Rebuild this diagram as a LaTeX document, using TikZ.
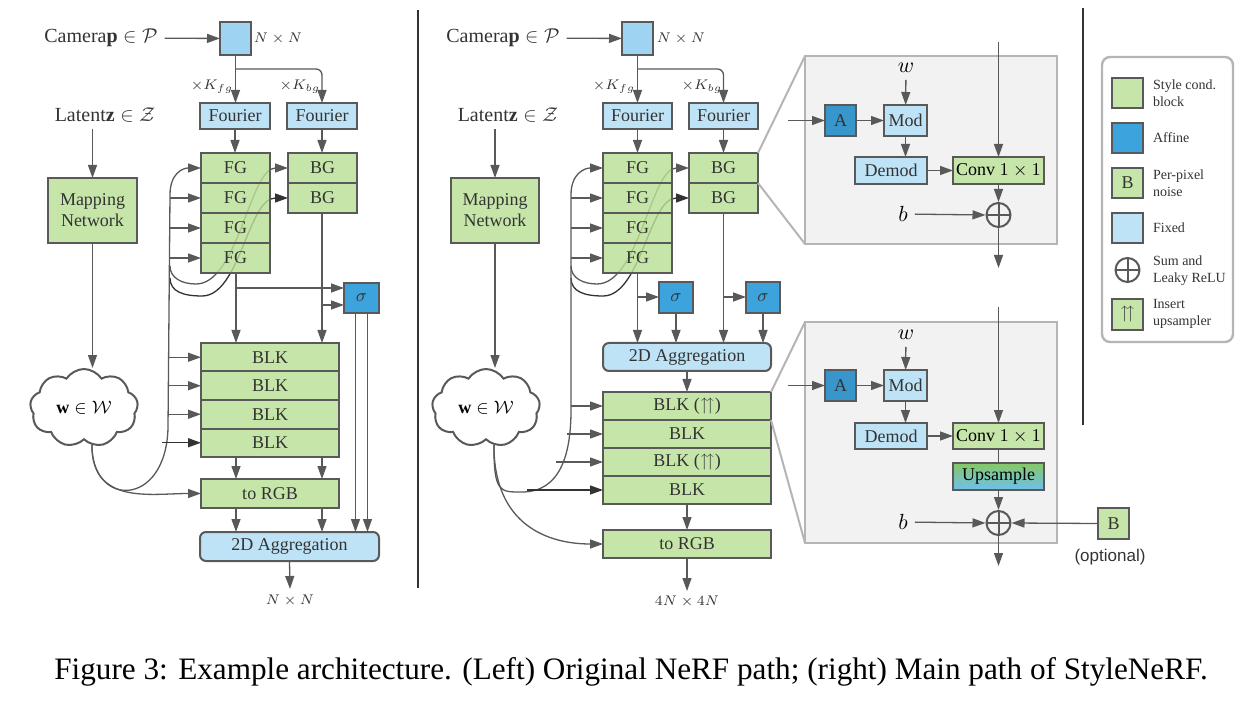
\documentclass[tikz,border=0pt]{standalone}
\usepackage{amsmath}
\usepackage{amssymb}
\usepackage{fontspec}
\setmainfont{Liberation Serif}
\newfontfamily\optfont{Liberation Sans}
\usetikzlibrary{shapes,arrows.meta,calc,fit,positioning}

\definecolor{styleGreen}{HTML}{C6E6A9}
\definecolor{fgGreen}{HTML}{BAE196}
\definecolor{fixedBlue}{HTML}{BFE3F6}
\definecolor{camBlue}{HTML}{9ED3F1}
\definecolor{affineBlue}{HTML}{3DA3DC}
\definecolor{edgeGray}{HTML}{595959}
\definecolor{txtGray}{HTML}{333333}
\definecolor{zoomGray}{HTML}{B5B5B5}
\definecolor{panelGray}{HTML}{F2F2F2}
\definecolor{upGreen}{HTML}{86C866}
\definecolor{upBlue}{HTML}{6EC0EE}

\begin{document}
\begin{tikzpicture}[x=0.5pt,y=-0.5pt,>={Triangle[length=6.5pt,width=4.5pt]},
		font=\fontsize{9}{10.5}\selectfont, text=txtGray,
		every fit/.style={inner sep=0pt, outer sep=0pt},
		blockbox/.style={draw=edgeGray, line width=1pt},
		stylebox/.style={blockbox, fill=styleGreen},
		fgbox/.style={blockbox, fill=fgGreen, fill opacity=0.82, text opacity=1},
		fixedbox/.style={blockbox, fill=fixedBlue},
		affinebox/.style={blockbox, fill=affineBlue},
		wire/.style={draw=edgeGray, line width=0.65pt},
		zoomline/.style={draw=zoomGray, line width=1pt},
		panel/.style={draw=zoomGray, line width=1.2pt, fill=panelGray},
		wcloud/.style={cloud, cloud puffs=9, cloud puff arc=115, aspect=1.5, draw=edgeGray, line width=1pt, fill=white,
			minimum width=54pt, minimum height=39pt, inner sep=0pt, text=black},
		sumnode/.style={circle, draw=edgeGray, line width=1pt, minimum size=12pt, inner sep=0pt,
			path picture={\draw[edgeGray, line width=1pt] (path picture bounding box.north) -- (path picture bounding box.south) (path picture bounding box.west) -- (path picture bounding box.east);}},
		smalltxt/.style={font=\fontsize{7}{8}\selectfont},
		bigtxt/.style={font=\fontsize{10}{11}\selectfont},
		legtext/.style={font=\fontsize{7}{8.5}\selectfont, align=left, anchor=west}]
	\useasboundingbox (0,0) rectangle (1252,705);

	% ---------------- left: original NeRF path
	\node (camL) [bigtxt] at (101,38) {Camera$\mathbf{p}\in\mathcal{P}$};
	\node (sqL) [blockbox, fill=camBlue, fit={(220,22) (251,55)}] {};
	\node (nnL) [smalltxt] at (278,39) {$N\times N$};
	\node (kfgL) [smalltxt] at (212,87) {$\times K_{fg}$};
	\node (kbgL) [smalltxt] at (300,87) {$\times K_{bg}$};
	\node (fouL1) [fixedbox, fit={(200,103) (270,129)}, label=center:{Fourier}] {};
	\node (fouL2) [fixedbox, fit={(287,103) (357,129)}, label=center:{Fourier}] {};
	\coordinate (spL) at (236,69);

	\draw[wire,->] (camL) -- (sqL);
	\draw[wire,->] (sqL.south) -- (sqL.south |- fouL1.north);
	\draw[wire,->,rounded corners=3pt] (spL) -| (fouL2.north);

	\node (bg1L) [stylebox, fit={(288,153) (357,183)}, label=center:{BG}] {};
	\node (bg2L) [stylebox, fit={(288,183) (357,213)}, label=center:{BG}] {};

	\node (latL) [bigtxt] at (105,115) {Latent$\mathbf{z}\in\mathcal{Z}$};
	\node (mapL) [stylebox, fit={(48,178) (137,243)}, label={[align=center]center:Mapping\\Network}] {};
	\node (cloudL) [wcloud] at (84,408) {$\mathbf{w}\in\mathcal{W}$};
	\draw[wire,->] (mapL.north |- latL.south) -- (mapL.north);
	\draw[wire,->] (mapL.south) -- (mapL.south |- cloudL.north);

	% w lines to BG pass behind FG
	\coordinate (bunLt) at (170,195);
	\coordinate (bunLb) at (168,428);
	\coordinate (brL1) at (170,266);
	\coordinate (dipL1) at (196,284);
	\coordinate (brL2) at (170,278);
	\coordinate (dipL2) at (202,296);
	\draw[wire,->] (brL1) .. controls +(0,12) and +(-14,0) .. (dipL1) .. controls +(42,0) and +(-38,0) .. (bg1L.west);
	\draw[wire,->,draw=black!80] (brL2) .. controls +(0,14) and +(-18,0) .. (dipL2) .. controls +(38,0) and +(-40,0) .. (bg2L.west);

	\node (fg1L) [fgbox, fit={(201,153) (270,183)}, label=center:{FG}] {};
	\node (fg2L) [fgbox, fit={(201,183) (270,213)}, label=center:{FG}] {};
	\node (fg3L) [fgbox, fit={(201,213) (270,243)}, label=center:{FG}] {};
	\node (fg4L) [fgbox, fit={(201,243) (270,273)}, label=center:{FG}] {};
	\draw[wire,->] (fouL1.south) -- (fouL1.south |- fg1L.north);
	\draw[wire,->] (fouL2.south) -- (fouL2.south |- bg1L.north);
	\draw[wire,->] (fg2L.west -| bunLt) -- (fg2L.west);
	\draw[wire,->] (fg3L.west -| bunLt) -- (fg3L.west);
	\draw[wire,->] (fg4L.west -| bunLt) -- (fg4L.west);

	\node (sigL) [affinebox, fit={(344,283) (379,313)}, label=center:{$\sigma$}] {};
	\node (blk1L) [stylebox, fit={(201,343) (339,371.5)}, label=center:{BLK}] {};
	\node (blk2L) [stylebox, fit={(201,371.5) (339,400)}, label=center:{BLK}] {};
	\node (blk3L) [stylebox, fit={(201,400) (339,428.5)}, label=center:{BLK}] {};
	\node (blk4L) [stylebox, fit={(201,428.5) (339,457)}, label=center:{BLK}] {};
	\node (rgbL) [stylebox, fit={(201,479) (339,508)}, label=center:{to RGB}] {};
	\node (aggL) [fixedbox, rounded corners=3pt, fit={(200,532) (379,561)}, label=center:{2D Aggregation}] {};
	\coordinate (outL) at (290,589);
	\node (nnoL) [smalltxt] at (290,601) {$N\times N$};
	\coordinate (colL1) at (236,0);
	\coordinate (colL2) at (322,0);
	\coordinate (s1L) at (236,288);
	\coordinate (s2L) at (322,305);

	% w bundle
	\draw[wire,->] (cloudL.-78) .. controls +(0,63) and +(-2,80) .. (bunLb) -- (bunLt) .. controls +(0,-22) and +(-18,0) .. (fg1L.west);
	\draw[wire,->] (cloudL.-78) .. controls +(0,60) and +(-50,0) .. (rgbL.west);

	\draw[wire,->] (fg4L.south -| colL1) -- (blk1L.north -| colL1);
	\draw[wire,->] (bg2L.south -| colL2) -- (blk1L.north -| colL2);
	\draw[wire,->] (s1L) -- (s1L -| sigL.west);
	\draw[wire,->] (s2L) -- (s2L -| sigL.west);
	\draw[wire,->] ([xshift=-3pt]sigL.south) -- ([xshift=-3pt]sigL.south |- aggL.north);
	\draw[wire,->] ([xshift=3pt]sigL.south) -- ([xshift=3pt]sigL.south |- aggL.north);
	\draw[wire,->] (blk1L.west -| bunLb) -- (blk1L.west);
	\draw[wire,->] (blk2L.west -| bunLb) -- (blk2L.west);
	\draw[wire,->] (blk3L.west -| bunLb) -- (blk3L.west);
	\draw[wire,->,draw=black!80] ([xshift=-3pt]blk4L.west -| bunLb) -- (blk4L.west);
	\draw[wire,->] (blk4L.south -| colL1) -- (rgbL.north -| colL1);
	\draw[wire,->] (blk4L.south -| colL2) -- (rgbL.north -| colL2);
	\draw[wire,->] (rgbL.south -| colL1) -- (aggL.north -| colL1);
	\draw[wire,->] (rgbL.south -| colL2) -- (aggL.north -| colL2);
	\draw[wire,->] (aggL.south) -- (outL);

	\draw[line width=1.2pt, draw=black!80] (418,10) -- (418,588);

	% ---------------- middle: StyleNeRF main path
	\node (camM) [bigtxt] at (503,38) {Camera$\mathbf{p}\in\mathcal{P}$};
	\node (sqM) [blockbox, fill=camBlue, fit={(622,22) (653,55)}] {};
	\node (nnM) [smalltxt] at (681,39) {$N\times N$};
	\node (kfgM) [smalltxt] at (614,87) {$\times K_{fg}$};
	\node (kbgM) [smalltxt] at (702,87) {$\times K_{bg}$};
	\node (fouM1) [fixedbox, fit={(603,103) (672,129)}, label=center:{Fourier}] {};
	\node (fouM2) [fixedbox, fit={(689,103) (758,129)}, label=center:{Fourier}] {};
	\coordinate (spM) at (638,69);

	\draw[wire,->] (camM) -- (sqM);
	\draw[wire,->] (sqM.south) -- (sqM.south |- fouM1.north);
	\draw[wire,->,rounded corners=3pt] (spM) -| (fouM2.north);

	\node (bg1M) [stylebox, fit={(689,153) (758,183)}, label=center:{BG}] {};
	\node (bg2M) [stylebox, fit={(689,183) (758,213)}, label=center:{BG}] {};

	\node (latM) [bigtxt] at (508,115) {Latent$\mathbf{z}\in\mathcal{Z}$};
	\node (mapM) [stylebox, fit={(451,178) (539,243)}, label={[align=center]center:Mapping\\Network}] {};
	\node (cloudM) [wcloud] at (486,408) {$\mathbf{w}\in\mathcal{W}$};
	\draw[wire,->] (mapM.north |- latM.south) -- (mapM.north);
	\draw[wire,->] (mapM.south) -- (mapM.south |- cloudM.north);

	% w lines to BG pass behind FG
	\coordinate (bunMt) at (571,195);
	\coordinate (bunMb) at (571,410);
	\coordinate (bunMd) at (522,492);
	\coordinate (tapM2) at (567,434);
	\coordinate (tapM3) at (556,462);
	\coordinate (tapM4) at (527,490);
	\coordinate (brM1) at (571,266);
	\coordinate (dipM1) at (597,284);
	\coordinate (brM2) at (571,278);
	\coordinate (dipM2) at (603,296);
	\draw[wire,->] (brM1) .. controls +(0,12) and +(-14,0) .. (dipM1) .. controls +(42,0) and +(-38,0) .. (bg1M.west);
	\draw[wire,->,draw=black!80] (brM2) .. controls +(0,14) and +(-18,0) .. (dipM2) .. controls +(38,0) and +(-40,0) .. (bg2M.west);

	\node (fg1M) [fgbox, fit={(603,153) (672,183)}, label=center:{FG}] {};
	\node (fg2M) [fgbox, fit={(603,183) (672,213)}, label=center:{FG}] {};
	\node (fg3M) [fgbox, fit={(603,213) (672,243)}, label=center:{FG}] {};
	\node (fg4M) [fgbox, fit={(603,243) (672,273)}, label=center:{FG}] {};
	\draw[wire,->] (fouM1.south) -- (fouM1.south |- fg1M.north);
	\draw[wire,->] (fouM2.south) -- (fouM2.south |- bg1M.north);
	\draw[wire,->] (fg2M.west -| bunMt) -- (fg2M.west);
	\draw[wire,->] (fg3M.west -| bunMt) -- (fg3M.west);
	\draw[wire,->] (fg4M.west -| bunMt) -- (fg4M.west);

	\node (sig1M) [affinebox, fit={(659,282) (693,313)}, label=center:{$\sigma$}] {};
	\node (sig2M) [affinebox, fit={(746,282) (780,313)}, label=center:{$\sigma$}] {};
	\node (aggM) [fixedbox, rounded corners=3pt, fit={(603,343) (771,371)}, label=center:{2D Aggregation}] {};
	\node (blk1M) [stylebox, fit={(603,392) (771,420)}, label=center:{BLK ($\upuparrows$)}] {};
	\node (blk2M) [stylebox, fit={(603,420) (771,448)}, label=center:{BLK}] {};
	\node (blk3M) [stylebox, fit={(603,448) (771,476)}, label=center:{BLK ($\upuparrows$)}] {};
	\node (blk4M) [stylebox, fit={(603,476) (771,504)}, label=center:{BLK}] {};
	\node (rgbM) [stylebox, fit={(603,530) (771,558)}, label=center:{to RGB}] {};
	\coordinate (outM) at (687,591);
	\node (nnoM) [smalltxt] at (687,602) {$4N\times 4N$};
	\coordinate (s1M) at (638,297);
	\coordinate (s2M) at (724,297);

	% w bundle
	\draw[wire,->] (cloudM.-78) .. controls +(0,48) and +(-22,0) .. (bunMd) .. controls +(38,0) and +(0,45) .. (bunMb) -- (bunMt) .. controls +(0,-22) and +(-18,0) .. (fg1M.west);
	\draw[wire,->] (cloudM.-78) .. controls +(0,80) and +(-55,0) .. (rgbM.west);

	\draw[wire,->] (fg4M.south) -- (fg4M.south |- aggM.north);
	\draw[wire,->] (bg2M.south) -- (bg2M.south |- aggM.north);
	\draw[wire,->] (s1M) -- (s1M -| sig1M.west);
	\draw[wire,->] (s2M) -- (s2M -| sig2M.west);
	\draw[wire,->] (sig1M.south) -- (sig1M.south |- aggM.north);
	\draw[wire,->] (sig2M.south) -- (sig2M.south |- aggM.north);
	\draw[wire,->] (aggM.south) -- (blk1M.north);
	\draw[wire,->] (blk1M.west -| bunMb) -- (blk1M.west);
	\draw[wire,->] (tapM2) -- (tapM2 -| blk2M.west);
	\draw[wire,->] (tapM3) -- (tapM3 -| blk3M.west);
	\draw[wire,->,draw=black!80] (tapM4) -- (tapM4 -| blk4M.west);
	\draw[wire,->] (blk4M.south) -- (rgbM.north);
	\draw[wire,->] (rgbM.south) -- (outM);

	% ---------------- zoomed blocks
	\node (zb1) [panel, fit={(805,56) (1057,244)}] {};
	\node (zb2) [panel, fit={(805,322) (1057,543)}] {};
	\draw[zoomline] (bg1M.north east) -- (zb1.north west);
	\draw[zoomline] (bg1M.south east) -- (zb1.south west);
	\draw[zoomline] (blk1M.north east) -- (zb2.north west);
	\draw[zoomline] (blk1M.south east) -- (zb2.south west);

	\coordinate (inp1) at (788,120.5);
	\coordinate (top1) at (998.5,42);
	\coordinate (down1) at (998.5,268);
	\node (a1) [affinebox, fill=affineBlue!92!black, fit={(825,105) (856,136)}, label=center:{A}] {};
	\node (mod1) [fixedbox, fit={(884,105) (927,136)}, label=center:{Mod}] {};
	\node (w1) [font=\fontsize{11}{12}\selectfont, text=black] at (906,68) {$w$};
	\node (dem1) [fixedbox, fit={(855,157) (927,184)}, label=center:{Demod}] {};
	\node (conv1) [stylebox, fit={(953,157) (1044,184)}, label={[text=black]center:Conv $1\times 1$}] {};
	\node (sum1) [sumnode] at (998.5,215) {};
	\node (b1) [font=\fontsize{11}{12}\selectfont, text=black] at (903,214) {$b$};
	\draw[wire,->] (inp1) -- (a1.west);
	\draw[wire,->] (a1) -- (mod1);
	\draw[wire,->] (w1) -- (mod1);
	\draw[wire,->] (mod1.south) -- (mod1.south |- dem1.north);
	\draw[wire,->] (dem1) -- (conv1);
	\draw[wire,->] (top1) -- (conv1.north);
	\draw[wire,->] (conv1.south) -- (sum1.north);
	\draw[wire,->] (b1) -- (sum1.west);
	\draw[wire,->] (sum1.south) -- (down1);

	\coordinate (inp2) at (788,385.5);
	\coordinate (top2) at (998.5,307);
	\coordinate (down2) at (998.5,566);
	\node (a2) [affinebox, fill=affineBlue!92!black, fit={(825,370) (856,401)}, label=center:{A}] {};
	\node (mod2) [fixedbox, fit={(884,370) (927,401)}, label=center:{Mod}] {};
	\node (w2) [font=\fontsize{11}{12}\selectfont, text=black] at (906,335) {$w$};
	\node (dem2) [fixedbox, fit={(855,423) (927,449)}, label=center:{Demod}] {};
	\node (conv2) [stylebox, fit={(953,423) (1044,449)}, label={[text=black]center:Conv $1\times 1$}] {};
	\node (ups2) [blockbox, top color=upGreen, middle color=upGreen!80!upBlue, bottom color=upBlue, fit={(953,463) (1044,490)}, label={[text=black]center:Upsample}] {};
	\node (sum2) [sumnode] at (998.5,523) {};
	\node (b2) [font=\fontsize{11}{12}\selectfont, text=black] at (903,522) {$b$};
	\node (nz2) [stylebox, fit={(1098,508) (1129,539)}, label=center:{B}] {};
	\node (opt) [font=\optfont\fontsize{8.5}{10}\selectfont] at (1110,557) {(optional)};
	\draw[wire,->] (inp2) -- (a2.west);
	\draw[wire,->] (a2) -- (mod2);
	\draw[wire,->] (w2) -- (mod2);
	\draw[wire,->] (mod2.south) -- (mod2.south |- dem2.north);
	\draw[wire,->] (dem2) -- (conv2);
	\draw[wire,->] (top2) -- (conv2.north);
	\draw[wire] (conv2.south) -- (ups2.north);
	\draw[wire,->] (ups2.south) -- (sum2.north);
	\draw[wire,->] (b2) -- (sum2.west);
	\draw[wire,->] (nz2.west) -- (sum2.east);
	\draw[wire,->] (sum2.south) -- (down2);

	\draw[line width=1.2pt, draw=black!80] (1083,8) -- (1083,425);

	% ---------------- legend
	\node (leg) [draw=zoomGray, line width=1.2pt, rounded corners=4pt, fill=white, fit={(1102,57) (1233,342)}] {};
	\node (lg1) [stylebox, fit={(1112,78) (1143,108)}] {};
	\node (lg2) [affinebox, fit={(1112,123) (1143,153)}] {};
	\node (lg3) [stylebox, fit={(1112,168) (1143,198)}, label=center:{B}] {};
	\node (lg4) [fixedbox, fit={(1112,213) (1143,243)}] {};
	\node (lg5) [sumnode] at (1127.5,270) {};
	\node (lg6) [stylebox, fit={(1112,299) (1143,330)}, label=center:{$\upuparrows$}] {};
	\node (lt1) [legtext] at (1146,93) {Style cond.\\block};
	\node (lt2) [legtext] at (1146,138) {Affine};
	\node (lt3) [legtext] at (1146,183) {Per-pixel\\noise};
	\node (lt4) [legtext] at (1146,228) {Fixed};
	\node (lt5) [legtext] at (1146,271) {Sum and\\Leaky ReLU};
	\node (lt6) [legtext] at (1146,314) {Insert\\upsampler};

	% ---------------- caption
	\node (caption) [font=\fontsize{15.6}{18}\selectfont, text=black] at (631,672) {Figure 3: Example architecture. (Left) Original NeRF path; (right) Main path of StyleNeRF.};
\end{tikzpicture}
\end{document}
